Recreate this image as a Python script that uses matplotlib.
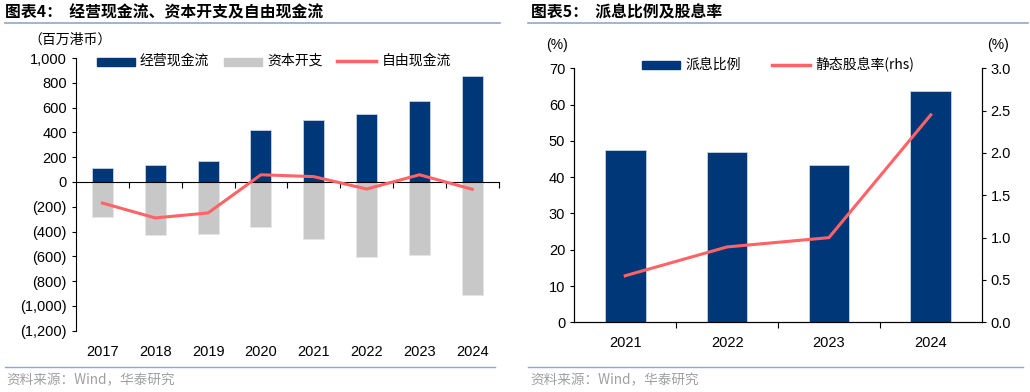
import matplotlib.pyplot as plt
import numpy as np
from matplotlib.ticker import FuncFormatter, FixedLocator
from matplotlib.patches import Rectangle
from matplotlib.lines import Line2D

plt.rcParams['font.family'] = ['Liberation Sans', 'Noto Sans CJK SC', 'DejaVu Sans']

# 图表4 数据 (百万港币)
years_l = ['2017', '2018', '2019', '2020', '2021', '2022', '2023', '2024']
ocf = [110, 135, 170, 420, 500, 550, 650, 855]
capex = [-280, -425, -420, -360, -457, -605, -592, -914]
fcf = [-170, -290, -250, 58, 43, -57, 58, -59]

# 图表5 数据
years_r = ['2021', '2022', '2023', '2024']
payout = [47.4, 46.9, 43.3, 63.8]
div_yield = [0.55, 0.89, 1.0, 2.45]

NAVY = '#003778'
GRAY = '#C8C8C8'
RED = '#FF6366'
LINE = '#8FA8C8'
CJK = ['Noto Sans CJK SC', 'DejaVu Sans']

W, H = 1030, 392
fig = plt.figure(figsize=(W / 100, H / 100), dpi=100)


def fx(px):
    return px / W


def fy(py):
    return 1 - py / H


# 标题、分隔线、来源
fig.text(fx(5), fy(12), '图表4：  经营现金流、资本开支及自由现金流', family=CJK,
         fontsize=11.4, fontweight='bold', va='center', ha='left')
fig.text(fx(531), fy(12), '图表5：  派息比例及股息率', family=CJK,
         fontsize=11.4, fontweight='bold', va='center', ha='left')
for x0, x1 in [(5, 500), (528, 1028)]:
    fig.add_artist(Line2D([fx(x0), fx(x1)], [fy(23), fy(23)], color=LINE, lw=1.2))
    fig.add_artist(Line2D([fx(x0), fx(x1 - 5)], [fy(367), fy(367)], color=LINE, lw=1.0))
fig.text(fx(6), fy(380), '资料来源：Wind，华泰研究', family=CJK, fontsize=9.8,
         color='#A0A0A0', va='center', ha='left')
fig.text(fx(530), fy(380), '资料来源：Wind，华泰研究', family=CJK, fontsize=9.8,
         color='#A0A0A0', va='center', ha='left')

# ---- 左图 ----
ax1 = fig.add_axes([fx(76), fy(330.7), fx(498.7 - 76), fy(58) - fy(330.7)])
x = np.arange(len(years_l))
ax1.bar(x, ocf, width=0.4, color=NAVY, edgecolor='#C9D3E0', linewidth=0.6, zorder=2)
ax1.bar(x, capex, width=0.4, color=GRAY, edgecolor='#E6E6E6', linewidth=0.6, zorder=2)
ax1.plot(x, fcf, color=RED, lw=2.2, zorder=3)
ax1.set_xlim(-0.5, len(years_l) - 0.5)
ax1.set_ylim(-1200, 1000)
ax1.set_yticks(np.arange(-1200, 1001, 200))
ax1.yaxis.set_major_formatter(FuncFormatter(
    lambda v, p: '0' if v == 0 else (f'{v:,.0f}' if v > 0 else f'({-v:,.0f})')))
for s in ['top', 'right']:
    ax1.spines[s].set_visible(False)
ax1.spines['bottom'].set_position(('data', 0))
ax1.xaxis.set_major_locator(FixedLocator(np.arange(0.5, len(years_l), 1.0)))
ax1.tick_params(axis='x', direction='out', length=4, labelbottom=False)
ax1.tick_params(axis='y', direction='out', length=3, labelsize=10.5)
sec1 = ax1.secondary_xaxis(0.0)
sec1.set_xticks(x)
sec1.set_xticklabels(years_l)
sec1.tick_params(length=0, labelsize=10.5, pad=10)
sec1.spines['bottom'].set_visible(False)
fig.text(fx(28), fy(40), '（百万港币）', family=CJK, fontsize=10, va='center', ha='left')

# 图例
fig.add_artist(Rectangle((fx(97), fy(66)), fx(38), fy(58) - fy(66), color=NAVY))
fig.text(fx(140), fy(61), '经营现金流', family=CJK, fontsize=10, va='center')
fig.add_artist(Rectangle((fx(224), fy(66)), fx(38), fy(58) - fy(66), color=GRAY))
fig.text(fx(267), fy(61), '资本开支', family=CJK, fontsize=10, va='center')
fig.add_artist(Line2D([fx(337), fx(376)], [fy(61), fy(61)], color=RED, lw=2.5))
fig.text(fx(382), fy(61), '自由现金流', family=CJK, fontsize=10, va='center')

# ---- 右图 ----
ax2 = fig.add_axes([fx(574.3), fy(322.3), fx(981.7 - 574.3), fy(68.3) - fy(322.3)])
xr = np.arange(len(years_r))
ax2.bar(xr, payout, width=0.4, color=NAVY, edgecolor='#C9D3E0', linewidth=0.6, zorder=2)
ax2.set_xlim(-0.5, len(years_r) - 0.5)
ax2.set_ylim(0, 70)
ax2.set_yticks(np.arange(0, 71, 10))
ax2.spines['top'].set_visible(False)
ax2.xaxis.set_major_locator(FixedLocator(np.arange(0.5, len(years_r) - 0.5, 1.0)))
ax2.tick_params(axis='x', direction='out', length=4, labelbottom=False)
ax2.tick_params(axis='y', direction='out', length=3, labelsize=10.5)
sec2 = ax2.secondary_xaxis(0.0)
sec2.set_xticks(xr)
sec2.set_xticklabels(years_r)
sec2.tick_params(length=0, labelsize=10.5, pad=10)
sec2.spines['bottom'].set_visible(False)

ax3 = ax2.twinx()
ax3.plot(xr, div_yield, color=RED, lw=2.2, zorder=3)
ax3.set_ylim(0, 3.0)
ax3.set_yticks(np.arange(0, 3.01, 0.5))
ax3.yaxis.set_major_formatter(FuncFormatter(lambda v, p: f'{v:.1f}'))
ax3.spines['top'].set_visible(False)
ax3.tick_params(axis='y', direction='out', length=3, labelsize=10.5)

fig.text(fx(557), fy(45), '(%)', fontsize=10, va='center', ha='center')
fig.text(fx(998), fy(45), '(%)', fontsize=10, va='center', ha='center')

fig.add_artist(Rectangle((fx(642), fy(69)), fx(38), fy(61) - fy(69), color=NAVY))
fig.text(fx(685), fy(65), '派息比例', family=CJK, fontsize=10, va='center')
fig.add_artist(Line2D([fx(772), fx(810)], [fy(65), fy(65)], color=RED, lw=2.5))
fig.text(fx(815), fy(65), '静态股息率(rhs)', family=CJK, fontsize=10, va='center')

fig.savefig('out.png', dpi=100)
